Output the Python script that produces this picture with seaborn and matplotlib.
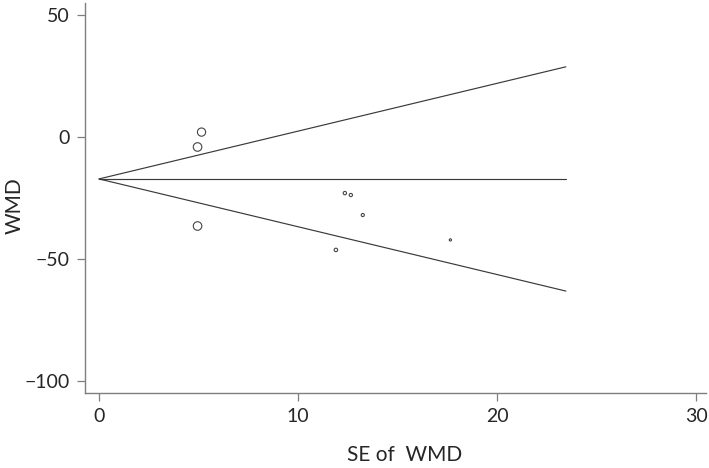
import numpy as np
import pandas as pd
import matplotlib
matplotlib.use("Agg")
import matplotlib.pyplot as plt
import seaborn as sns

# study effects (WMD) and their standard errors
se = [5.15, 4.95, 4.95, 12.35, 12.65, 13.25, 11.9, 17.65]
wmd = [2.0, -4.1, -36.5, -23.0, -23.8, -32.0, -46.3, -42.2]

# pooled estimate and the SE where the pseudo 95% limits stop
pooled = -17.2
max_se = 23.45

x_ticks = [0, 10, 20, 30]
y_ticks = [-100, -50, 0, 50]

sns.set_style("white")
plt.rcParams['font.family'] = ['Lato', 'DejaVu Sans']

df = pd.DataFrame({"se": se, "wmd": wmd})
# marker area proportional to inverse variance weight
df["w"] = 1 / df["se"] ** 2

lims = pd.DataFrame({
    "se": [0, max_se] * 3,
    "val": [pooled, pooled - 1.96 * max_se,
            pooled, pooled,
            pooled, pooled + 1.96 * max_se],
    "line": ["lower", "lower", "mid", "mid", "upper", "upper"],
})

fig = plt.figure(figsize=(7.09, 4.68), dpi=100)
ax = fig.add_axes([0.12, 0.16, 0.876, 0.834])

sns.lineplot(data=lims, x="se", y="val", units="line", estimator=None,
             color="#3a3a3a", linewidth=0.85, ax=ax)
sns.scatterplot(data=df, x="se", y="wmd", size="w", sizes=(2.6, 38),
                facecolor="none", edgecolor="#444444", linewidth=0.8,
                legend=False, ax=ax)

ax.set_xlim(-0.7, 30.5)
ax.set_ylim(-105, 55)
ax.set_xticks(x_ticks)
ax.set_yticks(y_ticks)
ax.set_yticklabels([f"{t}".replace("-", "\u2212") for t in y_ticks])
ax.set_xlabel("SE of  WMD", fontsize=15)
ax.set_ylabel("WMD", fontsize=15)
ax.xaxis.set_label_coords(0.514, -0.159)
ax.yaxis.set_label_coords(-0.113, 0.48)
ax.xaxis.label.set_va("center")
ax.yaxis.label.set_va("center")

for side in ["top", "right"]:
    ax.spines[side].set_visible(False)
for side in ["left", "bottom"]:
    ax.spines[side].set_color("#7f7f7f")
    ax.spines[side].set_linewidth(1.0)
ax.tick_params(axis="both", direction="out", length=6, width=0.9,
               color="#7f7f7f", labelsize=14, pad=5,
               bottom=True, left=True)

fig.savefig("out.png", dpi=100)
